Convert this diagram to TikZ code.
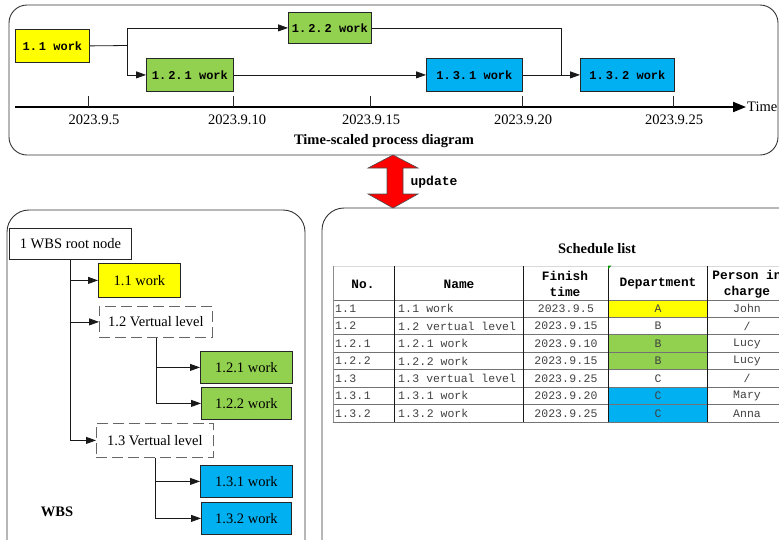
\documentclass[tikz,border=0pt]{standalone}
\usepackage{fontspec}
\setmainfont{Liberation Serif}
\setmonofont{Liberation Mono}
\usetikzlibrary{arrows.meta}
\definecolor{cy}{HTML}{FFFF00}
\definecolor{cg}{HTML}{92D050}
\definecolor{cb}{HTML}{00B0F0}
\newcommand{\pdot}{.\kern2pt}
\newcommand{\tdot}{.\kern0.5pt}
\begin{document}
\begin{tikzpicture}[x=1pt,y=-1pt,
  panel/.style={draw=black!80, line width=0.9pt},
  box/.style={draw=black!85, line width=0.8pt, inner sep=0pt, anchor=north west, align=center},
  tbox/.style={box, font=\ttfamily\bfseries\fontsize{12}{13}\selectfont},
  wbox/.style={box, font=\fontsize{14.5}{16}\selectfont},
  vbox/.style={wbox, draw=black!60, dash pattern=on 11pt off 5pt},
  arr/.style={draw=black!90, line width=0.8pt, -{Triangle[length=10pt,width=7pt]}},
  ln/.style={draw=black!90, line width=0.8pt},
  lab/.style={font=\fontsize{14.5}{16}\selectfont, inner sep=0pt},
  blab/.style={font=\bfseries\fontsize{14.5}{16}\selectfont, inner sep=0pt},
  hd/.style={font=\ttfamily\bfseries\fontsize{12.8}{16.5}\selectfont, inner sep=0pt, align=center},
  tb/.style={font=\ttfamily\fontsize{11.5}{12}\selectfont, text=black!75, inner sep=0pt}
]
\useasboundingbox (0,0) rectangle (779,539);
\clip (0,0) rectangle (779,539);

% ---------- top panel ----------
\draw[panel, rounded corners=18pt] (9,5) rectangle (778,155);
\node[tbox, fill=cy, minimum width=74pt, minimum height=33pt] (t11) at (15,29) {1\pdot 1 work};
\node[tbox, fill=cg, minimum width=83pt, minimum height=31pt] (t122) at (288,12) {1\pdot 2\pdot 2 work};
\node[tbox, fill=cg, minimum width=87pt, minimum height=33pt] (t121) at (146,58) {1\pdot 2\pdot 1 work};
\node[tbox, fill=cb, minimum width=96pt, minimum height=33pt] (t131) at (426,58) {1\pdot 3\pdot 1 work};
\node[tbox, fill=cb, minimum width=94pt, minimum height=33pt] (t132) at (580,58) {1\pdot 3\pdot 2 work};
\coordinate (j1) at (127,45.5);
\coordinate (j2) at (561,74.5);
\draw[ln] (t11.east) -- (j1);
\draw[arr] (j1) |- (t122.west);
\draw[arr] (j1) |- (t121.west);
\draw[arr] (t121.east) -- (t131.west);
\draw[ln] (t122.east) -| (j2);
\draw[arr] (t131.east) -- (t132.west);

% axis
\coordinate (ax0) at (15,107);
\coordinate (ax1) at (746,107);
\draw[line width=2pt, -{Triangle[length=13pt,width=10pt]}] (ax0) -- (ax1);
\node[lab, anchor=west] (time) at (747,107) {Time};
\foreach \x/\lx/\t/\n in {88/94/2023.9.5/a, 233/237/2023.9.10/b, 370/371/2023.9.15/c, 522/523/2023.9.20/d, 673/674/2023.9.25/e}{
  \draw[line width=0.8pt, black!85] (\x,96) -- (\x,107);
  \node[lab] (tick\n) at (\lx,120) {\t};
}
\node[blab] (ttl) at (384,141) {Time-scaled process diagram};

% ---------- bottom panels ----------
\draw[panel, rounded corners=22pt] (7,210) rectangle (305,570);
\draw[panel, rounded corners=22pt] (322,208) rectangle (810,570);

% update arrow
\draw[fill=red, draw=black!70, line width=0.6pt]
  (393,155) -- (418,168) -- (403,168) -- (403,194) -- (418,194) -- (393,208)
  -- (368,194) -- (387,194) -- (387,168) -- (368,168) -- cycle;
\node[font=\ttfamily\bfseries\fontsize{13}{14}\selectfont, inner sep=0pt] (upd) at (434,182) {update};

% ---------- WBS ----------
\node[wbox, minimum width=122pt, minimum height=31pt] (root) at (9,228) {1 WBS root node};
\node[wbox, fill=cy, minimum width=82pt, minimum height=34pt] (w11) at (98,263) {1.1 work};
\node[vbox, minimum width=113pt, minimum height=31pt] (w12) at (99,306) {1.2 Vertual level};
\node[wbox, fill=cg, minimum width=92pt, minimum height=32pt] (w121) at (200,351) {1.2.1 work};
\node[wbox, fill=cg, minimum width=90pt, minimum height=32pt] (w122) at (201,387) {1.2.2 work};
\node[vbox, minimum width=117pt, minimum height=34pt] (w13) at (96,423) {1.3 Vertual level};
\node[wbox, fill=cb, minimum width=92pt, minimum height=32pt] (w131) at (200,465) {1.3.1 work};
\node[wbox, fill=cb, minimum width=90pt, minimum height=32pt] (w132) at (201,502) {1.3.2 work};
\draw[arr] (root.south) |- (w11.west);
\draw[arr] (root.south) |- (w12.west);
\draw[arr] (root.south) |- (w13.west);
\draw[arr] (w12.south) |- (w121.west);
\draw[arr] (w12.south) |- (w122.west);
\draw[arr] (w13.south) |- (w131.west);
\draw[arr] (w13.south) |- (w132.west);
\node[blab] (wbs) at (57,512) {WBS};

% ---------- schedule table ----------
\node[blab] (sch) at (597,249) {Schedule list};
\foreach \i/\fc in {1/cy,3/cg,4/cg,6/cb,7/cb}{
  \fill[\fc] (608,{300+17.43*(\i-1)}) rectangle (707,{300+17.43*\i});
}
\draw[black!15, line width=0.6pt] (333,266) -- (779,266);
\foreach \i in {0,...,7}{
  \draw[black!55, line width=0.9pt] (333,{300+17.43*\i}) -- (779,{300+17.43*\i});
}
\draw[black!45, line width=0.7pt] (333,266) -- (333,422);
\foreach \x in {394,523,608,707}{
  \draw[black!90, line width=0.8pt] (\x,266) -- (\x,422);
}
\fill[green!60!black] (608,265.5) -- (611.5,265.5) -- (608,269) -- cycle;
\node[hd] (hno) at (363,284) {No.};
\node[hd] (hnm) at (459,284) {Name};
\node[hd] (hft) at (565,284) {Finish\\time};
\node[hd] (hdp) at (658,284) {Department};
\node[hd] (hpc) at (747,284) {Person in\\charge};
\foreach \i/\xno/\xnm/\xdt/\xdep/\xpc in {
  1/{1\tdot 1}/{1\tdot 1 work}/{2023\tdot 9\tdot 5}/A/John,
  2/{1\tdot 2}/{1\tdot 2 vertual level}/{2023\tdot 9\tdot 15}/B/{/},
  3/{1\tdot 2\tdot 1}/{1\tdot 2\tdot 1 work}/{2023\tdot 9\tdot 10}/B/Lucy,
  4/{1\tdot 2\tdot 2}/{1\tdot 2\tdot 2 work}/{2023\tdot 9\tdot 15}/B/Lucy,
  5/{1\tdot 3}/{1\tdot 3 vertual level}/{2023\tdot 9\tdot 25}/C/{/},
  6/{1\tdot 3\tdot 1}/{1\tdot 3\tdot 1 work}/{2023\tdot 9\tdot 20}/C/Mary,
  7/{1\tdot 3\tdot 2}/{1\tdot 3\tdot 2 work}/{2023\tdot 9\tdot 25}/C/Anna}{
  \node[tb, anchor=west] (no\i) at (335,{300+17.43*(\i-0.5)}) {\xno};
  \node[tb, anchor=west] (nm\i) at (398,{300+17.43*(\i-0.5)}) {\xnm};
  \node[tb] (dt\i) at (566,{300+17.43*(\i-0.5)}) {\xdt};
  \node[tb] (dp\i) at (658,{300+17.43*(\i-0.5)}) {\xdep};
  \node[tb] (pc\i) at (747,{300+17.43*(\i-0.5)}) {\xpc};
}
\end{tikzpicture}
\end{document}
